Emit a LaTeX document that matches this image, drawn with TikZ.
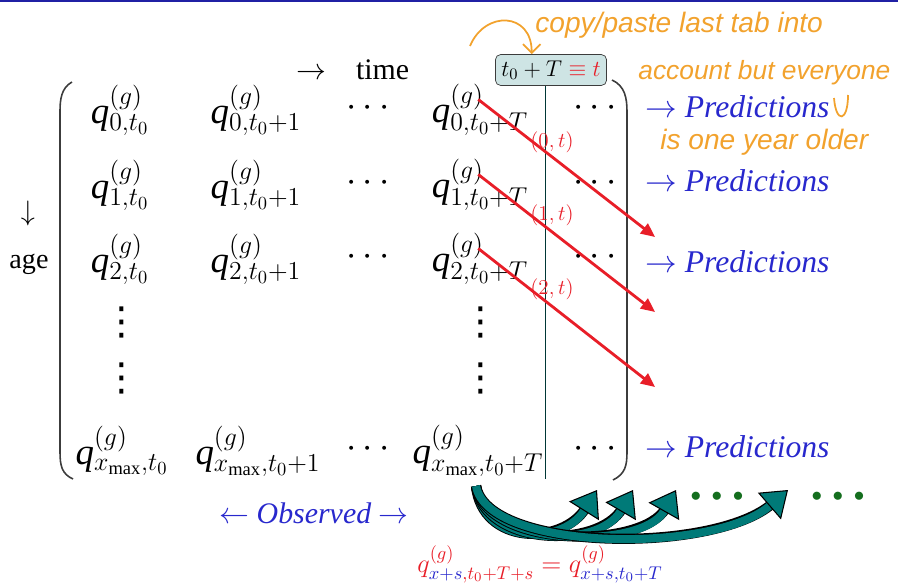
\documentclass[tikz,border=0pt]{standalone}
\usepackage{fix-cm}
\usepackage{fontspec}
\setmainfont{Liberation Serif}
\newfontfamily\handfont{Liberation Sans}
\newfontfamily\symfont{DejaVu Sans}
\usetikzlibrary{positioning,arrows.meta}
\definecolor{slideblue}{RGB}{40,40,205}
\definecolor{obsred}{RGB}{232,30,40}
\definecolor{boxteal}{RGB}{206,228,228}
\definecolor{arrowteal}{RGB}{0,122,120}
\definecolor{dotgreen}{RGB}{20,110,30}
\definecolor{penorange}{RGB}{242,162,45}
\definecolor{rulegray}{RGB}{60,60,60}
\newcommand{\qg}{\textit{q}}
\tikzset{
  qentry/.style={font=\fontsize{21}{24}\selectfont, inner sep=0pt},
  vdot/.style={font=\symfont\fontsize{22}{24}\selectfont, inner sep=0pt},
  pred/.style={text=slideblue, font=\fontsize{18}{20}\selectfont, anchor=west, inner sep=0pt},
  note/.style={text=penorange, font=\handfont\itshape\fontsize{16}{18}\selectfont, anchor=west, inner sep=0pt},
  diag/.style={obsred, line width=1.6pt, -{Triangle[length=8pt,width=7pt]}},
  carry/.style={arrowteal, line width=4.6pt,
    -{Triangle[length=14pt,width=20pt,color=black,fill=arrowteal,line width=0.6pt]},
    preaction={draw=black, line width=5.8pt, -, shorten >=12pt}},
  paren/.style={rulegray, line width=0.9pt}
}

\begin{document}
\begin{tikzpicture}[x=0.02cm,y=-0.02cm]
  \useasboundingbox (0,0) rectangle (898,585);
  \fill[slideblue!80!black] (0,0) rectangle (898,2);

  % headings
  \node[anchor=west, inner sep=0pt, font=\fontsize{17}{20}\selectfont] (time) at (296,70) {$\rightarrow$\quad time};
  \node[inner sep=0pt, font=\fontsize{16}{18}\selectfont] (down) at (28,213) {$\downarrow$};
  \node[inner sep=0pt, font=\fontsize{16}{18}\selectfont] (age) at (29,264) {age};
  \node[rectangle, draw=rulegray, fill=boxteal, rounded corners=3pt, minimum width=2.18cm, minimum height=0.62cm, font=\fontsize{13}{15}\selectfont] (tbox) at (551,70) {$t_0+T\mathrel{\color{obsred}\equiv}{\color{obsred}t}$};

  % matrix brackets
  \draw[paren] (72,82) .. controls (61,88) and (60,100) .. (60,112) -- (60,452) .. controls (60,466) and (62,474) .. (73,479);
  \draw[paren] (612,80) .. controls (625,86) and (627,98) .. (627,112) -- (627,452) .. controls (627,466) and (625,474) .. (613,480);

  % row 0
  \node[qentry] (q00) at (120,110) {\qg$^{(g)}_{0,t_0}$};
  \node[qentry] (q01) at (256,110) {\qg$^{(g)}_{0,t_0+1}$};
  \node[qentry] (q0d) at (368,108) {$\cdots$};
  \node[qentry] (q0T) at (480,110) {\qg$^{(g)}_{0,t_0+T}$};
  \node[qentry] (q0e) at (595,108) {$\cdots$};
  % row 1
  \node[qentry] (q10) at (120,185) {\qg$^{(g)}_{1,t_0}$};
  \node[qentry] (q11) at (256,185) {\qg$^{(g)}_{1,t_0+1}$};
  \node[qentry] (q1d) at (368,183) {$\cdots$};
  \node[qentry] (q1T) at (480,185) {\qg$^{(g)}_{1,t_0+T}$};
  \node[qentry] (q1e) at (595,183) {$\cdots$};
  % row 2
  \node[qentry] (q20) at (120,259) {\qg$^{(g)}_{2,t_0}$};
  \node[qentry] (q21) at (256,259) {\qg$^{(g)}_{2,t_0+1}$};
  \node[qentry] (q2d) at (368,257) {$\cdots$};
  \node[qentry] (q2T) at (480,259) {\qg$^{(g)}_{2,t_0+T}$};
  \node[qentry] (q2e) at (595,257) {$\cdots$};
  % vertical dots
  \node[vdot] (v10) at (122,322) {⋮};
  \node[vdot] (v20) at (122,378) {⋮};
  \node[vdot] (v1T) at (481,322) {⋮};
  \node[vdot] (v2T) at (481,378) {⋮};
  % last row
  \node[qentry] (qx0) at (122,451) {\qg$^{(g)}_{x_{\max},t_0}$};
  \node[qentry] (qx1) at (258,451) {\qg$^{(g)}_{x_{\max},t_0+1}$};
  \node[qentry] (qxd) at (368,449) {$\cdots$};
  \node[qentry] (qxT) at (478,451) {\qg$^{(g)}_{x_{\max},t_0+T}$};
  \node[qentry] (qxe) at (595,449) {$\cdots$};

  % current calendar year
  \coordinate (tend) at (545,479);
  \draw[arrowteal!45!black, line width=0.5pt] (tbox.south -| tend) -- (tend);

  % one year older
  \coordinate (p0) at (655,237);
  \coordinate (p1) at (655,312);
  \coordinate (p2) at (655,387);
  \draw[diag] ([xshift=-1pt,yshift=6pt]q0T.center) -- (p0);
  \draw[diag] ([xshift=-1pt,yshift=6pt]q1T.center) -- (p1);
  \draw[diag] ([xshift=-1pt,yshift=6pt]q2T.center) -- (p2);
  \node[text=obsred, font=\fontsize{12}{14}\selectfont] (l0) at (552,142) {$(0,t)$};
  \node[text=obsred, font=\fontsize{12}{14}\selectfont] (l1) at (552,215) {$(1,t)$};
  \node[text=obsred, font=\fontsize{12}{14}\selectfont] (l2) at (552,289) {$(2,t)$};

  % predictions
  \node[pred] (pr0) at (645,107) {$\rightarrow$ \textit{Predictions}};
  \node[pred] (pr1) at (645,181) {$\rightarrow$ \textit{Predictions}};
  \node[pred] (pr2) at (645,262) {$\rightarrow$ \textit{Predictions}};
  \node[pred] (prx) at (645,447) {$\rightarrow$ \textit{Predictions}};
  \node[text=slideblue, font=\fontsize{17}{20}\selectfont, inner sep=0pt] (obs) at (314,513) {$\leftarrow$ \textit{Observed} $\rightarrow$};

  % oldest age carried forward
  \coordinate (fan) at (476,486);
  \coordinate (c1) at (597,490);
  \coordinate (c2) at (633,490);
  \coordinate (c3) at (676,490);
  \coordinate (c4) at (788,490);
  \draw[carry] (fan) .. controls (482,545) and (562,546) .. (c1);
  \draw[carry] (fan) .. controls (484,546) and (598,550) .. (c2);
  \draw[carry] (fan) .. controls (486,548) and (642,550) .. (c3);
  \draw[carry] (fan) .. controls (488,552) and (714,554) .. (c4);
  \node[text=dotgreen, font=\fontsize{12}{14}\selectfont] (g1) at (717,497) {$\bullet\;\bullet\;\bullet$};
  \node[text=dotgreen, font=\fontsize{12}{14}\selectfont] (g2) at (838,497) {$\bullet\;\bullet\;\bullet$};
  \node[font=\fontsize{15}{18}\selectfont, inner sep=0pt] (rule) at (540,564)
    {$\color{obsred}q^{(g)}_{\color{slideblue}x+s\color{obsred},t_0+T+s}=q^{(g)}_{\color{slideblue}x+s,t_0+T}$};

  % pen notes
  \node[note] (n1) at (535,25) {copy/paste last tab into};
  \node[note, font=\handfont\itshape\fontsize{15}{18}\selectfont] (n2) at (638,73) {account but everyone};
  \node[note] (n3) at (660,142) {is one year older};
  \coordinate (pen) at (470,46);
  \draw[penorange, line width=1pt, -{Straight Barb[length=5pt]}] (pen) .. controls (485,10) and (532,12) .. ([xshift=-11pt]tbox.north);
  \draw[penorange, line width=1pt] (834,98) .. controls (836,124) and (848,122) .. (848,95);
\end{tikzpicture}
\end{document}
